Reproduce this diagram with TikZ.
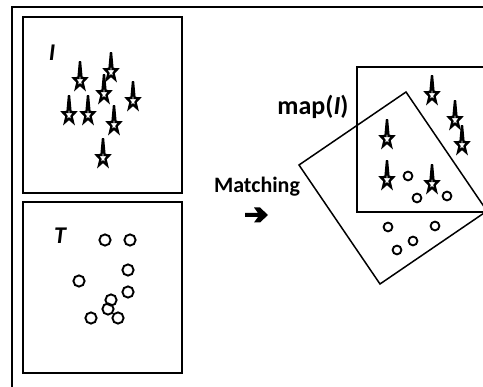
\documentclass[tikz,border=0pt]{standalone}
\usepackage{fontspec}
\setmainfont{Carlito}
\tikzset{
  frameline/.style={line width=1.8pt},
  boxline/.style={line width=1.5pt},
  starline/.style={draw=black, fill=white, line width=2.3pt, line join=miter, miter limit=4},
  ringline/.style={draw=black, line width=1.9pt},
  lbl/.style={inner sep=0pt, font=\fontsize{22}{25}\selectfont\bfseries},
  starmark/.pic={
    \path[starline] (0,-18) -- (1.4,-2.67) -- (5.6,-2.5) -- (2.3,1.02)
      -- (3.6,6.5) -- (0,3.3) -- (-3.6,6.5) -- (-2.3,1.02)
      -- (-5.6,-2.5) -- (-1.4,-2.67) -- cycle;
  }
}
\begin{document}
\begin{tikzpicture}[x=1pt,y=-1pt]
\clip (0,0) rectangle (483,387);
\fill[white] (0,0) rectangle (483,387);

% outer frame (only the top and left sides fall inside the page)
\draw[frameline] (12,390) -- (12,7) -- (490,7);

% panel I
\draw[boxline] (23,17) rectangle (182,193);
\node[lbl, font=\fontsize{24}{27}\selectfont\bfseries\itshape] (labI) at (52,53) {I};
\foreach \x/\y in {80/81, 111/72, 104/94, 69/115, 88/115, 133/101, 114/125, 103/158}
  \pic[scale=1.1] at (\x,\y) {starmark};

% panel T
\draw[boxline] (23,202) rectangle (182,373);
\node[lbl, font=\fontsize{24}{27}\selectfont\bfseries\itshape] (labT) at (60,236) {T};
\foreach \x/\y in {105/240, 130/240, 128/270, 79/281, 128/292, 111/300, 108/309, 91/318, 118/318}
  \draw[ringline] (\x,\y) circle (5.6);

% matching label and arrow
\node[lbl, anchor=base] (match) at (257,193) {Matching};
\fill (245,213) -- (258,213) -- (254,207.5) -- (260,207.5) -- (268,215)
  -- (260,222.5) -- (254,222.5) -- (258,217) -- (245,217) -- cycle;

% upright frame of I
\draw[boxline] (490,67) -- (357,67) -- (357,212) -- (490,212);
% rotated frame of T
\draw[boxline] (299,165) -- (406,92) -- (487,211) -- (380,284) -- cycle;
\node[lbl, anchor=base, font=\fontsize{26}{29}\selectfont\bfseries] (mapI) at (313,115) {map(\textit{I})};

\foreach \x/\y in {432/95, 455/120, 462/145, 432/184, 387/139, 387/180}
  \pic[scale=1.1] at (\x,\y) {starmark};
\foreach \x/\y in {408/176, 417/198, 447/196, 388/227, 435/226, 413/241, 397/250}
  \draw[ringline] (\x,\y) circle (4.4);
\end{tikzpicture}
\end{document}
